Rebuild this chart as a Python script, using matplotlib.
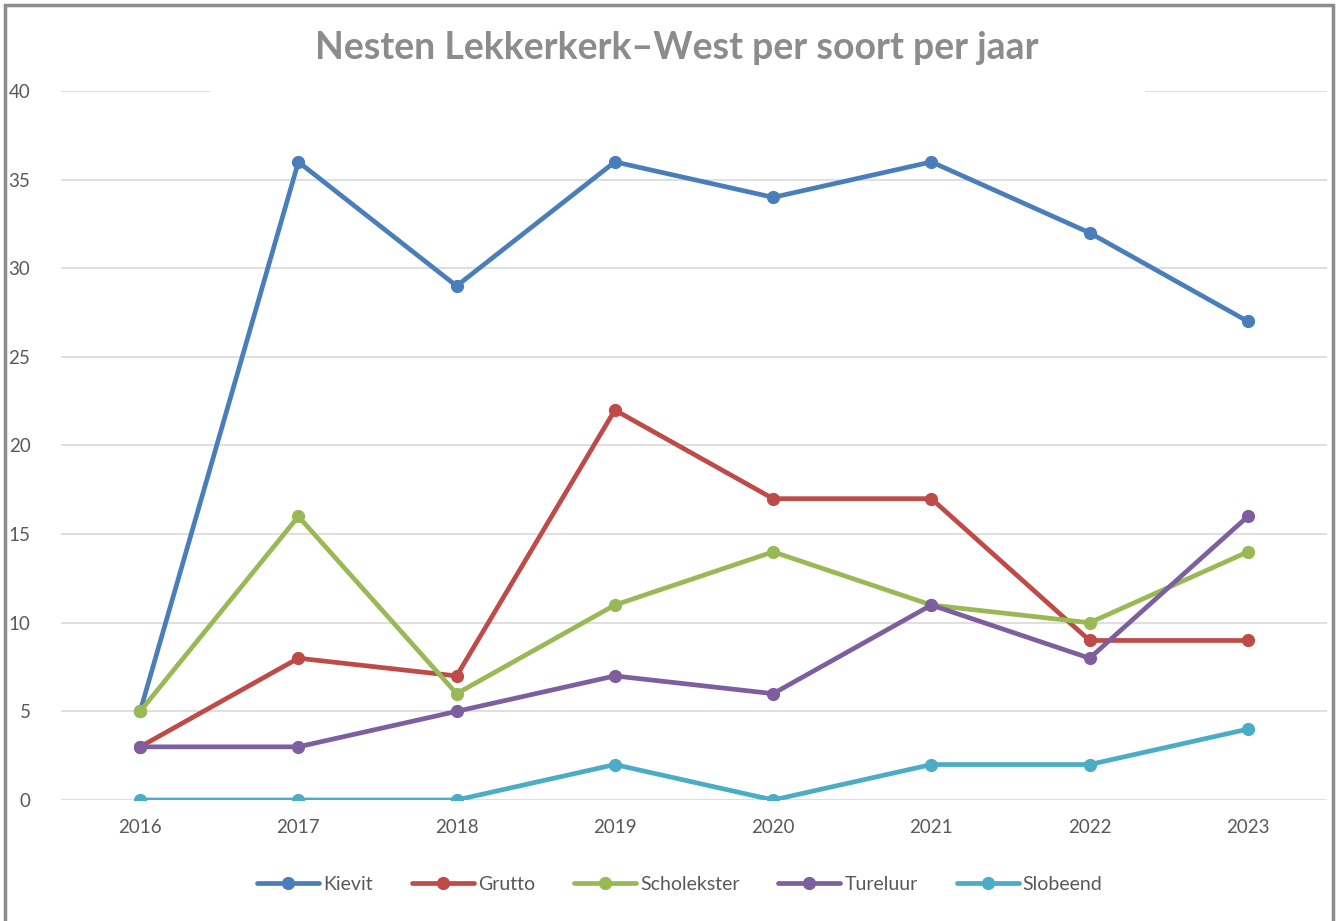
import matplotlib
matplotlib.use("Agg")
import matplotlib.pyplot as plt
from matplotlib.patches import Rectangle

years = ["2016", "2017", "2018", "2019", "2020", "2021", "2022", "2023"]
kievit = [5, 36, 29, 36, 34, 36, 32, 27]
grutto = [3, 8, 7, 22, 17, 17, 9, 9]
scholekster = [5, 16, 6, 11, 14, 11, 10, 14]
tureluur = [3, 3, 5, 7, 6, 11, 8, 16]
slobeend = [0, 0, 0, 2, 0, 2, 2, 4]

series = [
    ("Kievit", kievit, "#4A7EBB"),
    ("Grutto", grutto, "#BE4B48"),
    ("Scholekster", scholekster, "#98B954"),
    ("Tureluur", tureluur, "#7D5FA0"),
    ("Slobeend", slobeend, "#4AACC5"),
]

plt.rcParams['font.family'] = ['Lato', 'DejaVu Sans']

W, H = 1338, 921
fig = plt.figure(figsize=(W / 100, H / 100), dpi=100)
ax = fig.add_axes([61 / W, 1 - 800 / H, (1327 - 61) / W, (800 - 91) / H])

x = list(range(len(years)))
for name, vals, col in series:
    ax.plot(x, vals, color=col, lw=3.4, marker='o', ms=8.5, label=name,
            solid_capstyle='round', zorder=3)

ax.set_xlim(-0.5, len(years) - 0.5)
ax.set_ylim(0, 40)
ax.set_yticks(range(0, 41, 5))
ax.set_xticks(x)
ax.set_xticklabels(years)
ax.grid(axis='y', color='#D9D9D9', lw=1.2, zorder=0)
ax.set_axisbelow(True)
for s in ax.spines.values():
    s.set_visible(False)
ax.tick_params(axis='both', length=0, labelsize=13.5, labelcolor='#595959')
ax.tick_params(axis='y', pad=22)
ax.tick_params(axis='x', pad=14)

# white title area covering the top gridline
fig.patches.append(Rectangle((210 / W, 1 - 96 / H), (1145 - 210) / W, 80 / H,
                             transform=fig.transFigure, facecolor='white',
                             edgecolor='none', zorder=2))
fig.text(0.506, 1 - 48 / H, "Nesten Lekkerkerk\u2013West per soort per jaar",
         ha='center', va='center', fontsize=27, fontweight='bold', color='#8C8C8C',
         zorder=3)

leg = fig.legend(loc='center', bbox_to_anchor=(0.508, 1 - 884 / H), ncol=5,
                 frameon=False, fontsize=14, handlelength=3.2, columnspacing=2.0,
                 handletextpad=0.2)
for t in leg.get_texts():
    t.set_color('#595959')

fig.patches.append(Rectangle((5 / W, -0.05), (1333 - 5) / W, 1.05 - 5 / H,
                             transform=fig.transFigure, fill=False,
                             edgecolor='#8C8C8C', lw=2.5, zorder=4))

fig.savefig("out.png", dpi=100)
